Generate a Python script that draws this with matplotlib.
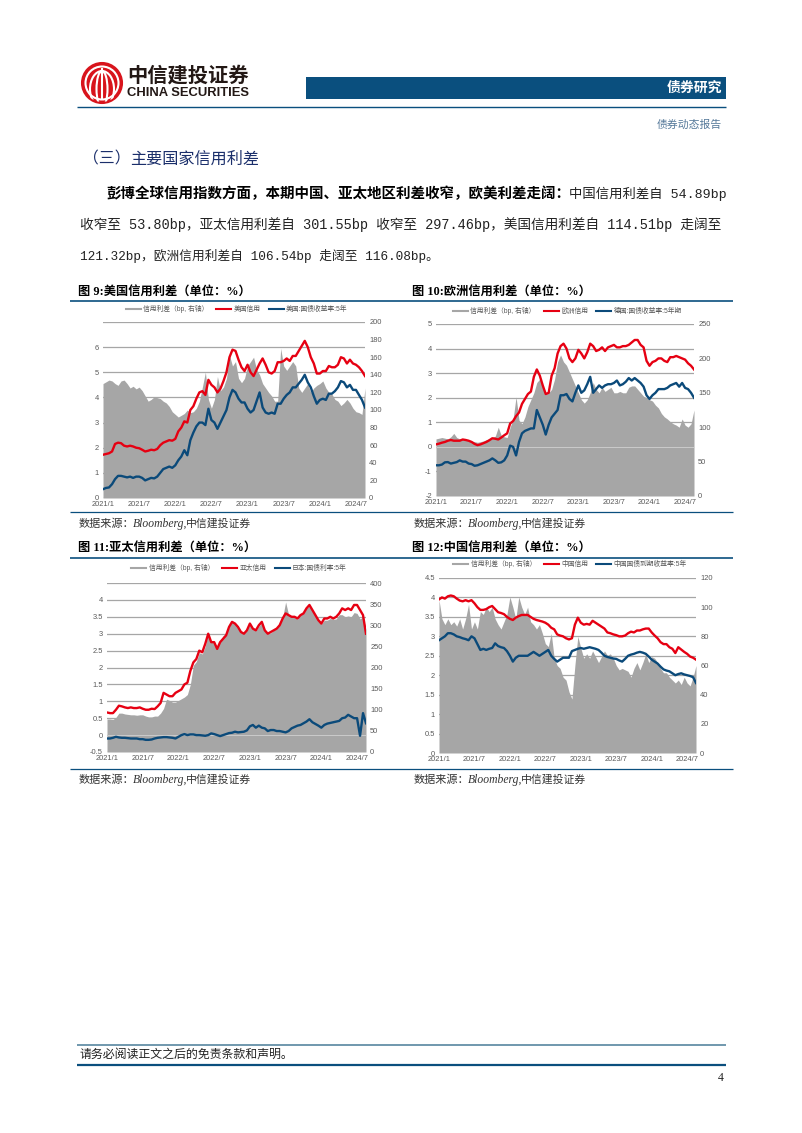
import numpy as np
import matplotlib
matplotlib.use('Agg')
import matplotlib.pyplot as plt
from matplotlib.lines import Line2D
from matplotlib.patches import Circle, Ellipse, Rectangle

W, H = 802, 1133
CJK = 'Noto Sans CJK SC'
plt.rcParams['font.family'] = ['Liberation Sans', CJK, 'DejaVu Sans']

GRAY = '#a6a6a6'
RED = '#e60012'
BLUE = '#0b4a7a'
NAVY = '#0a4f7e'
TICK = '#595959'

x_labels = ['2021/1', '2021/7', '2022/1', '2022/7', '2023/1', '2023/7', '2024/1', '2024/7']
x_months = [0, 6, 12, 18, 24, 30, 36, 42]

# half-month readings, 2021/1 to 2024/8
us_spread = [130, 132, 134, 133, 130, 128, 133, 134, 130, 125,
             127, 124, 126, 122, 116, 110, 112, 115, 114, 113,
             110, 108, 104, 98, 95, 92, 94, 96, 100, 97,
             98, 102, 110, 126, 143, 112, 102, 112, 138, 122,
             126, 136, 162, 150, 155, 136, 131, 136, 150, 155,
             160, 146, 140, 130, 125, 120, 116, 110, 110, 170,
             150, 145, 150, 155, 150, 125, 120, 125, 130, 120,
             125, 128, 130, 133, 125, 120, 118, 112, 110, 105,
             108, 112, 108, 102, 98, 97, 95, 125]
us_credit = [1.72, 1.75, 1.78, 1.85, 2.15, 2.2, 2.18, 2.08, 2.05, 2.08,
             2.05, 2.0, 1.98, 1.92, 1.85, 1.88, 1.92, 1.9, 1.95, 2.1,
             2.2, 2.25, 2.3, 2.28, 2.35, 2.65, 2.8, 3.05, 3.0, 3.5,
             3.65, 3.95, 4.2, 4.25, 4.1, 4.7, 4.5, 4.4, 4.2, 4.35,
             4.65, 5.0, 5.6, 5.9, 5.85, 5.5, 5.2, 5.05, 5.3, 5.0,
             4.85, 5.1, 5.35, 5.55, 5.3, 5.0, 4.95, 5.05, 5.4, 5.4,
             5.45, 5.55, 5.45, 5.65, 5.65, 5.85, 6.05, 6.25, 6.0, 5.6,
             5.35, 4.95, 4.95, 5.05, 5.05, 5.25, 5.2, 5.2, 5.3, 5.6,
             5.55, 5.35, 5.5, 5.35, 5.3, 5.2, 5.05, 4.85]
us_gov = [0.35, 0.4, 0.42, 0.55, 0.75, 0.88, 0.88, 0.85, 0.82, 0.85,
          0.8, 0.85, 0.85, 0.8, 0.7, 0.75, 0.8, 0.78, 0.85, 1.0,
          1.15, 1.2, 1.25, 1.2, 1.3, 1.5, 1.65, 1.9, 1.7, 2.3,
          2.6, 2.85, 3.0, 3.0, 2.9, 3.55, 3.1, 3.0, 2.75, 3.0,
          3.25, 3.5, 4.0, 4.3, 4.2, 3.95, 3.8, 3.8, 3.55, 3.4,
          3.5, 3.85, 4.2, 3.6, 3.4, 3.35, 3.4, 3.35, 3.75, 3.75,
          3.95, 4.1, 4.2, 4.4, 4.4, 4.55, 4.7, 4.9, 4.6, 4.4,
          4.05, 3.75, 3.9, 3.95, 3.9, 4.15, 4.15, 4.25, 4.4, 4.65,
          4.6, 4.4, 4.5, 4.3, 4.3, 4.1, 3.9, 3.6]

eu_spread = [83, 84, 85, 84, 83, 86, 91, 85, 83, 83,
             82, 80, 80, 79, 78, 79, 80, 82, 83, 85,
             87, 100, 88, 86, 85, 100, 112, 144, 110, 105,
             115, 130, 140, 150, 165, 170, 160, 150, 150, 155,
             170, 195, 205, 195, 190, 180, 170, 160, 150, 140,
             135, 140, 150, 165, 155, 150, 158, 152, 155, 158,
             150, 150, 152, 150, 150, 158, 160, 160, 155, 150,
             145, 143, 140, 138, 132, 128, 120, 115, 112, 108,
             105, 103, 100, 112, 103, 100, 105, 125]
eu_credit = [0.1, 0.13, 0.17, 0.2, 0.25, 0.28, 0.25, 0.25, 0.25, 0.3,
             0.28, 0.25, 0.2, 0.12, 0.07, 0.1, 0.15, 0.2, 0.27, 0.35,
             0.33, 0.3, 0.38, 0.47, 0.55, 0.95, 1.05, 1.25, 1.4, 1.75,
             1.95, 2.15, 2.25, 2.85, 3.15, 2.9, 2.5, 2.15, 2.2, 2.9,
             3.2, 3.8, 4.1, 4.2, 4.0, 3.6, 3.45, 3.6, 3.95, 3.8,
             3.6, 3.85, 4.2, 4.1, 3.9, 3.95, 4.05, 3.9, 4.05, 4.1,
             4.15, 4.05, 4.05, 4.1, 4.1, 4.15, 4.25, 4.35, 4.35, 4.15,
             4.05, 3.5, 3.3, 3.45, 3.5, 3.6, 3.6, 3.5, 3.45, 3.65,
             3.65, 3.7, 3.65, 3.6, 3.55, 3.4, 3.3, 3.15]
eu_gov = [-0.75, -0.75, -0.72, -0.63, -0.62, -0.68, -0.65, -0.62, -0.55, -0.6,
          -0.6, -0.68, -0.7, -0.77, -0.75, -0.7, -0.65, -0.6, -0.55, -0.47,
          -0.55, -0.65, -0.63, -0.55, -0.35, 0.05, 0.0, -0.35, 0.2, 0.55,
          0.65, 0.7, 0.75, 0.75, 1.5, 1.2, 0.9, 0.5, 0.9, 1.2,
          1.35, 1.5, 2.1, 2.1, 2.15, 1.95, 1.85, 2.2, 2.5, 2.2,
          2.3, 2.55, 2.85, 2.2, 2.35, 2.5, 2.4, 2.5, 2.55, 2.55,
          2.6, 2.7, 2.5, 2.55, 2.65, 2.8, 2.7, 2.8, 2.7, 2.6,
          2.45, 2.1, 1.95, 2.1, 2.2, 2.35, 2.35, 2.35, 2.4, 2.5,
          2.55, 2.6, 2.45, 2.6, 2.4, 2.35, 2.2, 2.0]

ap_spread = [78, 78, 77, 82, 92, 92, 90, 89, 88, 88,
             87, 88, 88, 85, 83, 83, 85, 85, 92, 103,
             125, 122, 118, 118, 122, 126, 130, 136, 160, 205,
             214, 235, 232, 250, 282, 260, 258, 250, 262, 275,
             280, 295, 310, 305, 298, 285, 280, 288, 302, 292,
             287, 298, 305, 288, 280, 282, 288, 292, 300, 318,
             355, 325, 320, 318, 314, 325, 328, 340, 345, 335,
             325, 310, 303, 312, 312, 316, 314, 315, 325, 325,
             320, 322, 320, 330, 328, 315, 320, 290]
ap_credit = [0.67, 0.65, 0.65, 0.75, 0.87, 0.85, 0.82, 0.8, 0.82, 0.8,
             0.8, 0.82, 0.78, 0.75, 0.75, 0.78, 0.77, 0.85, 0.95, 1.25,
             1.2, 1.15, 1.15, 1.25, 1.3, 1.35, 1.5, 1.55, 1.9, 2.15,
             2.25, 2.5, 2.45, 2.7, 3.0, 2.75, 2.75, 2.55, 2.75, 2.85,
             2.95, 3.2, 3.35, 3.3, 3.2, 3.05, 3.0, 3.1, 3.3, 3.15,
             3.1, 3.25, 3.35, 3.1, 3.0, 3.05, 3.1, 3.15, 3.25, 3.45,
             3.6, 3.55, 3.5, 3.5, 3.45, 3.55, 3.6, 3.75, 3.85, 3.7,
             3.55, 3.4, 3.3, 3.45, 3.45, 3.5, 3.45, 3.5, 3.6, 3.75,
             3.7, 3.75, 3.7, 3.85, 3.85, 3.7, 3.55, 3.0]
ap_gov = [-0.1, -0.1, -0.08, -0.05, -0.07, -0.08, -0.08, -0.09, -0.1, -0.1,
          -0.1, -0.12, -0.12, -0.14, -0.14, -0.13, -0.1, -0.08, -0.07, -0.06,
          -0.06, -0.07, -0.08, -0.1, -0.05, 0.0, 0.03, 0.0, 0.02, 0.02,
          0.0, 0.0, -0.01, -0.02, 0.0, 0.05, 0.03, 0.0, -0.03, 0.0,
          0.03, 0.06, 0.07, 0.1, 0.08, 0.09, 0.1, 0.14, 0.26, 0.3,
          0.22, 0.28, 0.22, 0.2, 0.12, 0.15, 0.15, 0.12, 0.12, 0.1,
          0.08, 0.12, 0.2, 0.24, 0.28, 0.3, 0.35, 0.4, 0.47, 0.38,
          0.33, 0.28, 0.22, 0.3, 0.34, 0.36, 0.38, 0.4, 0.42, 0.5,
          0.52, 0.6, 0.55, 0.5, 0.5, -0.02, 0.65, 0.35]

cn_spread = [105, 92, 88, 92, 88, 90, 87, 92, 85, 92,
             102, 85, 90, 85, 97, 95, 100, 97, 100, 92,
             88, 85, 90, 95, 107, 100, 92, 107, 100, 95,
             100, 90, 88, 85, 88, 82, 75, 73, 82, 65,
             60, 58, 52, 50, 42, 37, 60, 80, 72, 65,
             68, 65, 70, 66, 62, 66, 70, 67, 68, 65,
             60, 57, 58, 57, 56, 52, 58, 62, 57, 62,
             68, 62, 66, 65, 62, 58, 55, 55, 52, 50,
             48, 50, 47, 52, 48, 46, 52, 60]
cn_credit = [3.95, 4.0, 3.97, 4.03, 4.05, 4.03, 3.97, 3.92, 3.9, 3.93,
             3.9, 3.93, 3.85, 3.75, 3.68, 3.68, 3.7, 3.75, 3.78, 3.7,
             3.62, 3.6, 3.57, 3.5, 3.45, 3.42, 3.48, 3.52, 3.55, 3.55,
             3.55, 3.5, 3.45, 3.42, 3.4, 3.38, 3.35, 3.3, 3.22, 3.18,
             3.05, 3.02, 3.0, 2.95, 2.92, 2.95, 3.3, 3.48, 3.35, 3.3,
             3.32, 3.3, 3.4, 3.35, 3.3, 3.25, 3.2, 3.1, 3.08, 3.05,
             3.03, 3.0, 3.0, 3.02, 3.08, 3.12, 3.1, 3.15, 3.15, 3.18,
             3.2, 3.2, 3.1, 3.02, 2.95, 2.85, 2.8, 2.8, 2.72, 2.68,
             2.57, 2.72, 2.66, 2.6, 2.55, 2.48, 2.45, 2.4]
cn_gov = [2.9, 2.95, 3.0, 3.08, 3.08, 3.05, 3.0, 2.98, 2.95, 2.93,
          2.9, 3.0, 2.95, 2.8, 2.65, 2.68, 2.65, 2.68, 2.7, 2.82,
          2.75, 2.72, 2.7, 2.62, 2.5, 2.35, 2.45, 2.5, 2.5, 2.5,
          2.5, 2.55, 2.6, 2.55, 2.5, 2.55, 2.6, 2.65, 2.5, 2.42,
          2.35, 2.4, 2.45, 2.45, 2.45, 2.62, 2.65, 2.68, 2.7, 2.68,
          2.7, 2.72, 2.7, 2.68, 2.65, 2.58, 2.5, 2.47, 2.45, 2.43,
          2.42, 2.38, 2.35, 2.42, 2.5, 2.53, 2.55, 2.58, 2.6, 2.58,
          2.55, 2.48, 2.4, 2.35, 2.3, 2.22, 2.15, 2.12, 2.1, 2.05,
          2.0, 2.03, 2.05, 2.02, 2.0, 1.98, 1.95, 1.8]

fig = plt.figure(figsize=(W / 100, H / 100), dpi=100)

# page layer in pixel coordinates
page = fig.add_axes([0, 0, 1, 1], zorder=0)
page.set_xlim(0, W)
page.set_ylim(H, 0)
page.axis('off')


def put(x, y, s, size, color='black', ha='left', weight='normal', family=None):
    page.text(x, y, s, fontsize=size, color=color, ha=ha, va='center', weight=weight,
              family=family or [CJK, 'DejaVu Sans'])


def rule(x0, x1, y, color, lw):
    page.plot([x0, x1], [y, y], color=color, lw=lw, solid_capstyle='butt')


def draw_chart(box, spread, credit, gov, left_lim, left_ticks, left_labels, right_lim, right_ticks, names, legend_gap):
    x0, y0, x1, y1 = box
    rect = [x0 / W, 1 - y1 / H, (x1 - x0) / W, (y1 - y0) / H]
    ax_r = fig.add_axes(rect, zorder=1)
    ax = ax_r.twinx()
    ax_r.yaxis.tick_right()
    ax.yaxis.tick_left()
    ax.set_zorder(2)
    ax.patch.set_visible(False)
    ax_r.set_zorder(1)

    months = np.arange(len(spread)) * 0.5
    ax_r.fill_between(months, spread, 0, color=GRAY, lw=0)
    ax_r.set_ylim(*right_lim)
    ax_r.set_yticks(right_ticks)
    ax_r.set_xlim(0, 43.5)
    ax_r.set_xticks(x_months)
    ax_r.set_xticklabels(x_labels)

    for v in left_ticks:
        ax.axhline(v, color=GRAY, lw=0.9, zorder=1)
    if left_lim[0] < 0:
        ax.axhline(0, color='#d9d9d9', lw=0.5, zorder=1.5)
    ax.plot(months, credit, color=RED, lw=1.7, zorder=3)
    ax.plot(months, gov, color=BLUE, lw=1.7, zorder=3)
    ax.set_ylim(*left_lim)
    ax.set_yticks(left_ticks)
    ax.set_yticklabels(left_labels)

    for a in (ax, ax_r):
        a.tick_params(length=0, labelsize=5.4, labelcolor=TICK, pad=3)
        for s in a.spines.values():
            s.set_visible(False)
    ax_r.tick_params(axis='x', pad=2)

    handles = [Line2D([], [], color=GRAY, lw=1.5), Line2D([], [], color=RED, lw=1.5),
               Line2D([], [], color=BLUE, lw=1.5)]
    ax.legend(handles, names, ncol=3, frameon=False, loc='lower center',
              bbox_to_anchor=(0.51, 1 + legend_gap / (y1 - y0)),
              fontsize=4.9, labelcolor=TICK, handlelength=2.2, handletextpad=0.35, columnspacing=1.2,
              borderaxespad=0, borderpad=0)


# header
page.add_patch(Circle((102, 83), 20, color='#d8141c', lw=0))
page.add_patch(Circle((102, 83), 16.5, fill=False, ec='white', lw=1.5))
for w in (24, 11):
    page.add_patch(Ellipse((102, 89), w, 36, fill=False, ec='white', lw=1.5))
page.plot([102, 102], [69, 98], color='white', lw=1.5)
page.add_patch(Circle((102, 83), 20, fill=False, ec='#d8141c', lw=1.5))
put(127, 75, '中信建投证券', 14.6, color='#231815', weight='bold')
put(127, 93, 'CHINA SECURITIES', 9.4, color='#231815', weight='bold', family=['Liberation Sans'])
page.add_patch(Rectangle((306, 77), 420, 22, color=NAVY, lw=0))
put(722, 88, '债券研究', 10, color='white', ha='right', weight='bold')
rule(77, 726, 107, NAVY, 1.0)
put(722, 125, '债券动态报告', 7.8, color='#55799a', ha='right')

# section text
put(83, 159, '（三）', 11.4, color='#1b2f6b')
put(130, 159, '主要国家信用利差', 11.6, color='#1b2f6b')
BODY = ['Liberation Mono', CJK]
put(106, 194, '彭博全球信用指数方面，本期中国、亚太地区利差收窄，欧美利差走阔：', 10.45, weight='bold')
put(569, 194, '中国信用利差自 54.89bp', 9.6, color='#222222', family=BODY)
put(80, 225, '收窄至 53.80bp，亚太信用利差自 301.55bp 收窄至 297.46bp，美国信用利差自 114.51bp 走阔至',
    9.85, color='#222222', family=BODY)
put(80, 256, '121.32bp，欧洲信用利差自 106.54bp 走阔至 116.08bp。', 9.15, color='#222222', family=BODY)

# figure titles, rules and sources
TITLE = ['Liberation Serif', CJK]
put(78, 291.5, '图 9:美国信用利差（单位：%）', 8.8, weight='bold', family=TITLE)
put(412, 291.5, '图 10:欧洲信用利差（单位：%）', 8.8, weight='bold', family=TITLE)
put(78, 548, '图 11:亚太信用利差（单位：%）', 8.8, weight='bold', family=TITLE)
put(412, 548, '图 12:中国信用利差（单位：%）', 8.8, weight='bold', family=TITLE)
for y in (301, 558):
    rule(70, 733, y, NAVY, 1.2)
for y in (512, 769):
    rule(70, 733, y, NAVY, 0.9)
for x, y in ((79, 524), (414, 524), (79, 780), (414, 780)):
    put(x, y, '数据来源：', 8, color='#333333')
    page.text(x + 54, y, 'Bloomberg,', fontsize=8.4, color='#333333', va='center',
              family=['Liberation Serif'], style='italic')
    put(x + 107, y, '中信建投证券', 7.8, color='#333333')

# footer
rule(77, 726, 1045, '#7098ad', 1.4)
put(80, 1054, '请务必阅读正文之后的免责条款和声明。', 8.6, color='#222222')
rule(77, 726, 1065, NAVY, 1.6)
put(721, 1078, '4', 8.5, color='#222222', ha='center', family=['Liberation Serif'])

draw_chart((103, 322, 365, 498), us_spread, us_credit, us_gov, (0, 7), [0, 1, 2, 3, 4, 5, 6, 7],
           ['0', '1', '2', '3', '4', '5', '6', ''], (0, 200), list(range(0, 201, 20)),
           ['信用利差（bp, 右轴）', '美国信用', '美国:国债收益率:5年'], 9)
draw_chart((436, 324, 694, 496), eu_spread, eu_credit, eu_gov, (-2, 5), [-2, -1, 0, 1, 2, 3, 4, 5],
           ['-2', '-1', '0', '1', '2', '3', '4', '5'], (0, 250), list(range(0, 251, 50)),
           ['信用利差（bp, 右轴）', '欧洲信用', '德国:国债收益率:5年期'], 9)
draw_chart((107, 583, 366, 752), ap_spread, ap_credit, ap_gov, (-0.5, 4.5),
           [-0.5, 0, 0.5, 1, 1.5, 2, 2.5, 3, 3.5, 4, 4.5],
           ['-0.5', '0', '0.5', '1', '1.5', '2', '2.5', '3', '3.5', '4', ''], (0, 400), list(range(0, 401, 50)),
           ['信用利差（bp, 右轴）', '亚太信用', '日本:国债利率:5年'], 11)
draw_chart((439, 578, 696, 753), cn_spread, cn_credit, cn_gov, (0, 4.5),
           [0, 0.5, 1, 1.5, 2, 2.5, 3, 3.5, 4, 4.5],
           ['0', '0.5', '1', '1.5', '2', '2.5', '3', '3.5', '4', '4.5'], (0, 120), list(range(0, 121, 20)),
           ['信用利差（bp, 右轴）', '中国信用', '中国国债到期收益率:5年'], 10)

fig.savefig('out.png', dpi=100)
